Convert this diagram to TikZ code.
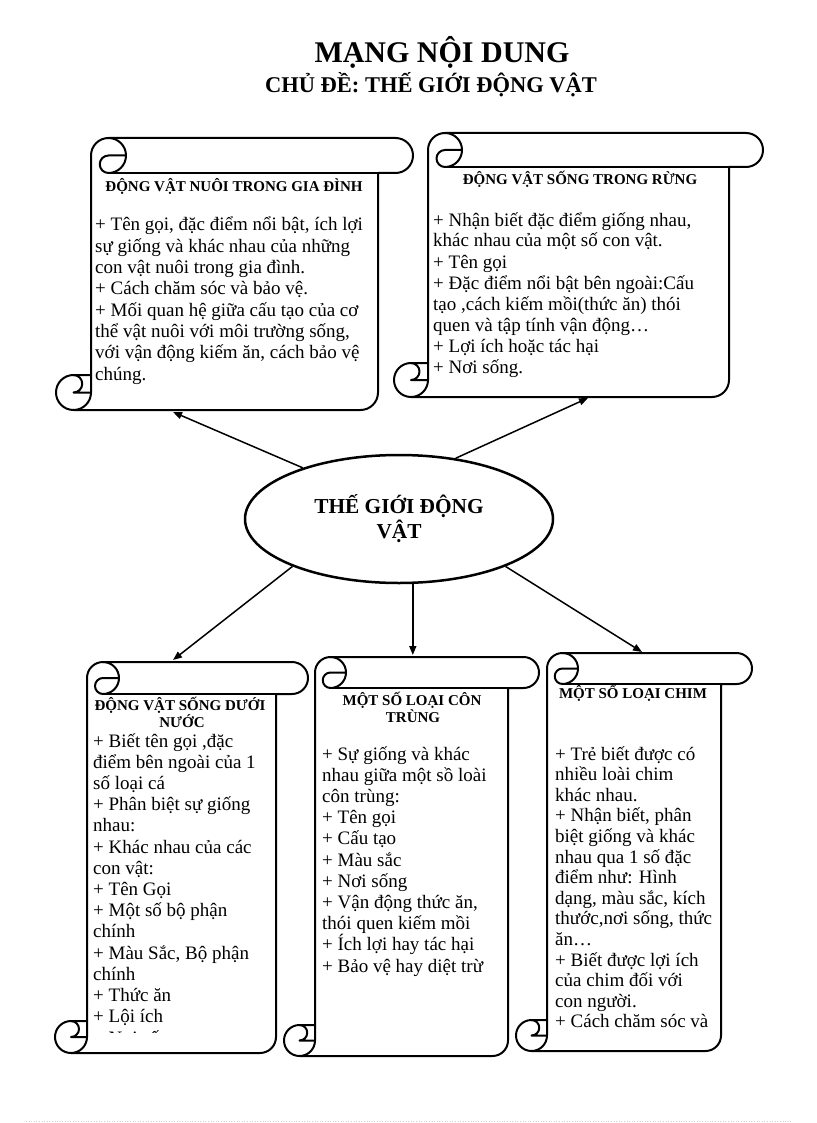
\documentclass[tikz,border=0pt]{standalone}
\usepackage{fontspec}
\setmainfont{Liberation Serif}
\usetikzlibrary{shapes.geometric,arrows.meta}

\tikzset{
  scrollline/.style={draw=black,line width=2pt,line join=round},
  bodytxt/.style={anchor=base west,inner sep=0pt,font=\fontsize{19}{21}\selectfont},
  headtxt/.style={anchor=base,inner sep=0pt,font=\bfseries\fontsize{15}{17}\selectfont},
  arrowline/.style={line width=1.5pt,-{Triangle[length=9pt,width=7pt]}},
}

% l, t, r, b, ch  (pixel coordinates, y downward)
\newcommand\scrollshape[5]{%
 \pgfmathsetmacro\scH{#5/2}%
 \pgfmathsetmacro\scQ{#5/4}%
 \pgfmathsetmacro\scXa{#1+#5/2}%
 \pgfmathsetmacro\scXb{#1+#5}%
 \pgfmathsetmacro\scXc{#1+1.5*#5}%
 \pgfmathsetmacro\scXd{#1+2*#5}%
 \pgfmathsetmacro\scXe{#3-#5/2}%
 \pgfmathsetmacro\scXf{#3-#5}%
 \pgfmathsetmacro\scYa{#2+#5/2}%
 \pgfmathsetmacro\scYb{#2+#5}%
 \pgfmathsetmacro\scYc{#4-#5}%
 \pgfmathsetmacro\scYd{#4-#5/2}%
 \draw[scrollline,fill=white] (\scXb,\scYc) -- (\scXb,\scYa)
   arc[start angle=180,delta angle=90,radius=\scH] -- (\scXe,#2)
   arc[start angle=270,delta angle=180,radius=\scH] -- (\scXf,\scYb) -- (\scXf,\scYd)
   arc[start angle=0,delta angle=90,radius=\scH] -- (\scXa,#4)
   arc[start angle=90,delta angle=180,radius=\scH] -- cycle;
 \draw[scrollline] (\scXc,#2) arc[start angle=270,delta angle=180,radius=\scH]
   arc[start angle=90,delta angle=180,radius=\scQ] -- (\scXd,\scYa);
 \draw[scrollline] (\scXf,\scYb) -- (\scXc,\scYb);
 \draw[scrollline] (\scXa,\scYc) arc[start angle=270,delta angle=180,radius=\scQ] -- (\scXb,\scYd);
 \draw[scrollline] (\scXa,#4) arc[start angle=90,delta angle=-90,radius=\scH] -- (\scXb,\scYc);
}

% name, x, first baseline, line skip, list of lines
\newcommand\textlines[5]{%
 \foreach \tl [count=\ti from 0] in {#5} {\node[bodytxt] (#1-\ti) at (#2,{#3+\ti*#4}) {\tl};}%
}

\begin{document}
\begin{tikzpicture}[x=1pt,y=-1pt]
\useasboundingbox (0,0) rectangle (816,1123);

% title
\node[anchor=base,inner sep=0pt,font=\bfseries\fontsize{30}{34}\selectfont] (title) at (442,63) {MẠNG NỘI DUNG};
\node[anchor=base,inner sep=0pt,font=\bfseries\fontsize{22.5}{26}\selectfont] (subtitle) at (431,93) {CHỦ ĐỀ: THẾ GIỚI ĐỘNG VẬT};

% scrolls
\scrollshape{56}{138}{413}{410}{35}
\scrollshape{394}{133}{763}{397}{34}
\scrollshape{55}{662}{308}{1053}{32}
\scrollshape{284}{657}{539}{1056}{31}
\scrollshape{516}{653}{752}{1051}{31}

% scroll A
\node[headtxt] (Ah) at (234,192) {ĐỘNG VẬT NUÔI TRONG GIA ĐÌNH};
\textlines{A}{95}{231}{21.3}{{+ Tên gọi, đặc điểm nổi bật, ích lợi},{sự giống và khác nhau của những},{con vật nuôi trong gia đình.},{+ Cách chăm sóc và bảo vệ.},{+ Mối quan hệ giữa cấu tạo của cơ},{thể vật nuôi với môi trường sống,},{với vận động kiếm ăn, cách bảo vệ},{chúng.}}

% scroll B
\node[headtxt] (Bh) at (580,185) {ĐỘNG VẬT SỐNG TRONG RỪNG};
\textlines{B}{433}{226}{21}{{+ Nhận biết đặc điểm giống nhau,},{khác nhau của một số con vật.},{+ Tên gọi},{+ Đặc điểm nổi bật bên ngoài:Cấu},{tạo ,cách kiếm mồi(thức ăn) thói},{quen và tập tính vận động…},{+ Lợi ích hoặc tác hại},{+ Nơi sống.}}

% scroll C
\node[headtxt] (Ch1) at (180,710) {ĐỘNG VẬT SỐNG DƯỚI};
\node[headtxt] (Ch2) at (182,727) {NƯỚC};
\textlines{C}{93}{747}{21.2}{{+ Biết tên gọi ,đặc},{điểm bên ngoài của 1},{số loại cá},{+ Phân biệt sự giống},{nhau:},{+ Khác nhau của các},{con vật:},{+ Tên Gọi},{+ Một số bộ phận},{chính},{+ Màu Sắc, Bộ phận},{chính},{+ Thức ăn},{+ Lội ích}}
\begin{scope}
 \clip (88,1028) rectangle (275,1032.5);
 \node[bodytxt] (Clast) at (93,1044) {+ Nơi sống};
\end{scope}

% scroll D
\node[headtxt] (Dh1) at (412,705) {MỘT SỐ LOẠI CÔN};
\node[headtxt] (Dh2) at (413,722) {TRÙNG};
\textlines{D}{322}{760}{21.2}{{+ Sự giống và khác},{nhau giữa một sồ loài},{côn trùng:},{+ Tên gọi},{+ Cấu tạo},{+ Màu sắc},{+ Nơi sống},{+ Vận động thức ăn,},{thói quen kiếm mồi},{+ Ích lợi hay tác hại},{+ Bảo vệ hay diệt trừ}}

% scroll E
\node[headtxt] (Eh) at (633,698) {MỘT SỐ LOẠI CHIM};
\textlines{E}{555}{760}{20.6}{{+ Trẻ biết được có},{nhiều loài chim},{khác nhau.},{+ Nhận biết, phân},{biệt giống và khác},{nhau qua 1 số đặc},{điểm như: Hình},{dạng, màu sắc, kích},{thước,nơi sống, thức},{ăn…},{+ Biết được lợi ích},{của chim đối với},{con người.},{+ Cách chăm sóc và}}

% centre
\node[ellipse,draw,line width=2.5pt,fill=white,minimum width=308pt,minimum height=128pt,inner sep=0pt,
      align=center,font=\bfseries\fontsize{21.3}{25}\selectfont] (c) at (399,519) {THẾ GIỚI ĐỘNG\\VẬT};

% arrow tips
\coordinate (Atip) at (173,412);
\coordinate (Btip) at (588,398);
\coordinate (Ctip) at (173,660);
\coordinate (Dtip) at (413,655);
\coordinate (Etip) at (642,652);

\draw[arrowline] (c.152) -- (Atip);
\draw[arrowline] (c.47) -- (Btip);
\draw[arrowline] (c.204) -- (Ctip);
\draw[arrowline] (c.282) -- (c.282 |- Dtip);
\draw[arrowline] (c.336) -- (Etip);

% faint page rule
\draw[gray!35,dotted,line width=0.6pt] (26,1121) -- (791,1121);
\end{tikzpicture}
\end{document}
